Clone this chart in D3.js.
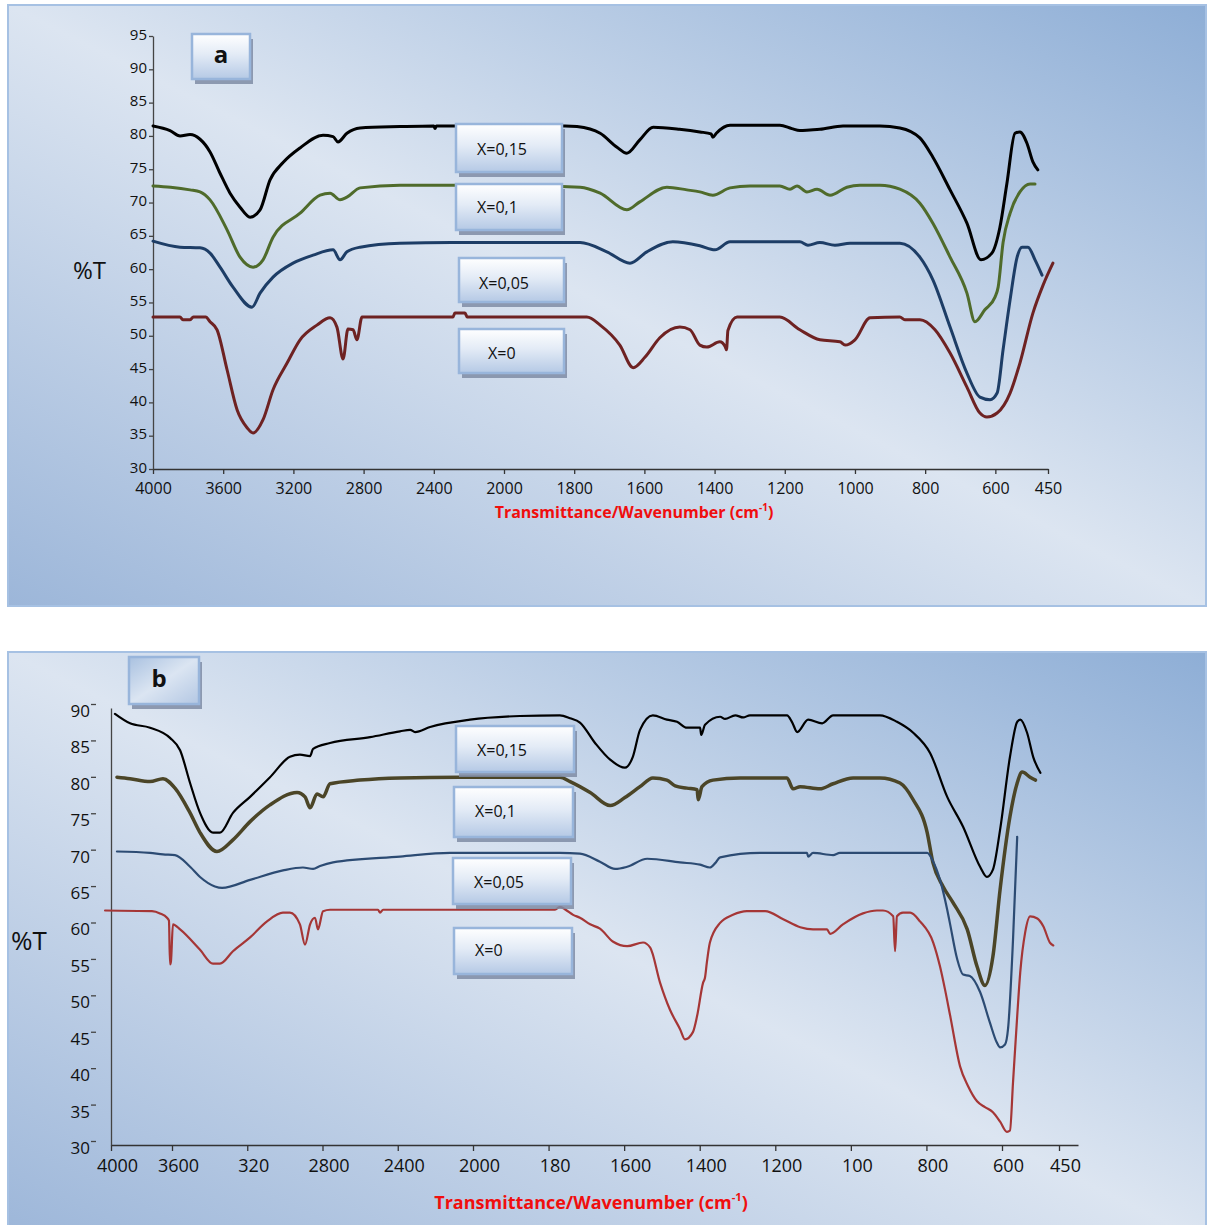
<!DOCTYPE html>
<html>
<head>
<meta charset="utf-8">
<script src="https://cdn.jsdelivr.net/npm/d3@7"></script>
<style>
body{margin:0;background:#fff;}
svg{display:block;}
text{font-family:"Open Sans",sans-serif;}
</style>
</head>
<body>
<script>
// tick values and labels
var aXTicks = [4000,3600,3200,2800,2400,2000,1800,1600,1400,1200,1000,800,600,450];
var aXLabels = ["4000","3600","3200","2800","2400","2000","1800","1600","1400","1200","1000","800","600","450"];
var bXLabels = ["4000","3600","320","2800","2400","2000","180","1600","1400","1200","100","800","600","450"];
var aYTicks = [30,35,40,45,50,55,60,65,70,75,80,85,90,95];
var bYTicks = [30,35,40,45,50,55,60,65,70,75,80,85,90];
var seriesNames = ["X=0,15","X=0,1","X=0,05","X=0"];

// panel a : [wavenumber, %T]
var a015 = [[4000,81.5],[3903,80.8],[3846,80.0],[3789,80.2],[3732,79.5],[3675,77.6],[3618,74.4],[3561,71.4],[3504,69.3],[3447,67.8],[3390,68.9],[3333,73.4],[3259,76.0],[3162,78.2],[3031,80.1],[2974,79.9],[2946,79.1],[2895,80.4],[2820,81.2],[2593,81.4],[2400,81.5],[2393,81.1],[2385,81.5],[2000,81.5],[1826,81.5],[1792,81.4],[1726,80.4],[1678,78.3],[1650,77.4],[1613,79.4],[1575,81.3],[1500,81.0],[1442,80.6],[1410,80.3],[1405,79.8],[1395,80.4],[1356,81.6],[1214,81.6],[1180,81.1],[1157,80.8],[1128,80.9],[1100,81.0],[1034,81.5],[929,81.5],[872,81.2],[815,79.7],[778,76.8],[729,71.9],[681,66.9],[641,61.4],[610,62.4],[587,66.3],[567,72.9],[544,80.4],[530,80.6],[510,78.9],[493,76.1],[479,74.9]];
var a010 = [[4000,72.5],[3900,72.3],[3789,71.9],[3732,71.6],[3675,70.4],[3578,65.9],[3504,61.8],[3430,60.3],[3373,61.4],[3316,64.8],[3162,68.4],[3048,71.1],[2991,71.4],[2934,70.4],[2895,70.8],[2820,72.2],[2593,72.6],[2000,72.6],[1783,72.3],[1726,71.4],[1650,68.9],[1613,70.1],[1536,72.3],[1479,71.9],[1442,71.6],[1405,71.1],[1356,72.2],[1299,72.5],[1214,72.5],[1185,72.0],[1165,72.5],[1137,71.6],[1108,72.0],[1071,71.1],[1023,72.3],[986,72.6],[929,72.6],[872,72.0],[815,69.9],[778,66.9],[729,61.8],[681,56.4],[658,52.1],[630,53.9],[601,55.8],[592,57.3],[578,64.0],[558,68.4],[530,71.6],[501,72.8],[487,72.8]];
var a005 = [[4000,64.2],[3846,63.3],[3732,63.2],[3675,62.4],[3618,60.3],[3544,57.3],[3436,54.3],[3390,56.4],[3316,58.8],[3202,60.9],[3088,62.1],[2974,62.9],[2934,61.4],[2895,62.6],[2820,63.3],[2593,63.9],[2300,64.0],[2000,64.0],[1783,64.0],[1707,62.6],[1641,60.9],[1593,62.6],[1519,64.1],[1442,63.5],[1399,62.9],[1356,64.1],[1157,64.1],[1134,63.6],[1100,64.0],[1057,63.6],[1014,63.9],[872,63.9],[815,61.8],[778,58.4],[729,51.3],[681,44.4],[644,40.8],[615,40.4],[595,41.4],[578,47.9],[558,55.4],[538,61.8],[524,63.3],[507,63.3],[487,61.4],[467,59.1]];
var a000 = [[4000,52.8],[3846,52.8],[3830,52.4],[3790,52.4],[3770,52.8],[3700,52.8],[3675,52.1],[3635,50.9],[3578,44.9],[3521,38.9],[3464,36.2],[3430,35.4],[3373,37.4],[3316,41.9],[3236,45.9],[3162,49.4],[3066,51.6],[2991,52.7],[2952,51.3],[2917,46.5],[2889,51.0],[2860,50.9],[2838,49.4],[2809,52.8],[2291,52.8],[2280,53.4],[2222,53.4],[2210,52.8],[1764,52.8],[1726,51.6],[1670,48.6],[1632,45.2],[1598,46.8],[1556,49.7],[1499,51.3],[1470,50.9],[1442,48.6],[1422,48.3],[1385,49.1],[1370,48.4],[1366,47.9],[1362,50.8],[1336,52.8],[1214,52.8],[1157,50.9],[1100,49.4],[1043,49.1],[1028,48.6],[1000,49.4],[957,52.7],[872,52.8],[858,52.4],[815,52.4],[772,50.9],[729,47.4],[681,42.3],[644,38.4],[624,37.8],[595,38.4],[558,41.4],[530,45.9],[493,53.4],[464,57.6],[436,60.9]];

// panel b : [wavenumber, %T]
var b015 = [[3974,89.2],[3875,87.9],[3744,87.3],[3613,85.9],[3557,84.2],[3504,79.7],[3451,75.6],[3382,72.9],[3345,72.9],[3276,75.6],[3185,77.8],[3079,80.5],[2973,83.3],[2920,83.6],[2866,83.4],[2850,84.4],[2760,85.2],[2547,86.0],[2388,86.8],[2334,87.0],[2308,86.7],[2228,87.4],[2016,88.4],[1876,88.9],[1770,89.0],[1743,88.6],[1717,88.0],[1677,85.2],[1637,82.9],[1598,81.8],[1577,83.3],[1558,87.0],[1524,89.0],[1487,88.4],[1460,88.1],[1434,87.3],[1399,87.3],[1396,86.3],[1386,87.7],[1346,88.8],[1333,88.5],[1306,89.0],[1285,88.7],[1267,89.0],[1169,89.0],[1155,88.0],[1142,86.7],[1113,88.4],[1076,87.9],[1047,89.0],[923,89.0],[878,88.1],[835,86.6],[790,83.8],[745,77.8],[703,73.7],[658,68.2],[640,66.8],[624,67.8],[605,73.3],[579,83.3],[560,88.1],[552,88.4],[534,86.6],[518,83.3],[499,81.1]];
var b010 = [[3961,80.5],[3875,80.3],[3744,79.9],[3659,80.3],[3584,79.0],[3504,75.6],[3451,72.9],[3361,70.3],[3276,71.9],[3185,74.4],[3079,76.7],[2935,78.4],[2893,77.8],[2866,76.3],[2829,78.2],[2797,77.8],[2760,79.6],[2601,80.1],[2388,80.4],[2069,80.5],[1770,80.5],[1743,79.9],[1690,78.4],[1637,76.6],[1598,77.7],[1558,79.2],[1524,80.4],[1487,80.1],[1465,79.3],[1434,79.0],[1407,78.8],[1404,77.4],[1394,79.2],[1365,80.1],[1293,80.4],[1169,80.4],[1153,78.9],[1134,79.2],[1082,78.9],[1047,79.6],[994,80.4],[923,80.4],[870,79.7],[835,77.4],[798,72.9],[783,68.8],[756,65.5],[730,63.3],[692,59.6],[666,54.5],[645,51.9],[624,55.9],[605,65.1],[579,75.1],[560,79.7],[547,81.2],[526,80.5],[512,80.1]];
var b005 = [[3961,70.3],[3744,70.1],[3659,69.9],[3584,69.8],[3504,68.2],[3451,66.8],[3372,65.5],[3334,65.3],[3185,66.4],[3010,67.7],[2904,68.1],[2850,67.9],[2813,68.3],[2744,68.8],[2388,69.6],[2122,70.1],[1770,70.1],[1717,70.0],[1664,68.9],[1624,67.9],[1592,68.2],[1539,69.3],[1452,68.8],[1399,68.5],[1373,68.1],[1359,68.7],[1346,69.5],[1240,70.1],[1116,70.1],[1113,69.6],[1100,70.1],[1047,69.8],[1029,70.1],[798,70.1],[783,69.0],[764,66.4],[745,62.3],[738,60.5],[719,55.6],[703,53.4],[685,53.2],[658,51.0],[632,46.8],[614,44.1],[605,43.4],[592,43.8],[584,46.0],[571,58.2],[560,72.3]];
var b000 = [[4039,62.2],[3731,62.1],[3679,61.8],[3633,61.2],[3620,60.8],[3613,54.8],[3607,55.2],[3595,60.3],[3557,59.6],[3451,56.8],[3382,54.9],[3345,54.9],[3276,56.6],[3185,58.5],[3095,60.7],[3010,61.9],[2973,61.9],[2920,60.3],[2893,57.5],[2866,60.3],[2840,61.2],[2824,59.6],[2797,62.1],[2760,62.3],[2505,62.3],[2494,61.9],[2478,62.3],[1783,62.3],[1770,62.7],[1755,62.3],[1735,61.6],[1717,61.2],[1690,60.3],[1664,59.7],[1629,57.9],[1592,57.3],[1550,57.8],[1531,57.1],[1505,52.3],[1479,48.6],[1452,45.9],[1439,44.5],[1418,45.5],[1407,47.7],[1391,52.3],[1386,53.0],[1381,55.1],[1373,57.8],[1346,60.5],[1312,61.6],[1275,62.1],[1227,62.1],[1179,61.0],[1134,59.9],[1100,59.6],[1063,59.6],[1055,59.0],[1021,60.3],[968,61.8],[931,62.2],[915,62.2],[888,61.4],[883,56.6],[878,61.4],[862,61.9],[843,61.9],[817,60.7],[782,57.8],[764,54.5],[751,51.4],[737,47.7],[711,40.8],[690,38.1],[666,36.0],[645,35.2],[624,34.5],[605,33.2],[587,31.8],[579,32.0],[571,38.6],[560,47.7],[552,53.7],[539,59.2],[526,61.4],[507,61.1],[491,60.0],[474,57.8],[465,57.4]];

var svg = d3.select("body").append("svg").attr("width",1207).attr("height",1225);
var defs = svg.append("defs");

function addGrad(id, x1, y1, x2, y2, stops){
  var gr = defs.append("linearGradient").attr("id",id)
    .attr("x1",x1).attr("y1",y1).attr("x2",x2).attr("y2",y2);
  stops.forEach(function(s){
    gr.append("stop").attr("offset",s[0]).attr("stop-color",s[1]);
  });
}
addGrad("bg", 0, 1, 1, 0, [[0,"#9cb6d9"],[0.5,"#dce5f1"],[1,"#8eaed6"]]);
addGrad("box", 0, 0, 0, 1, [[0,"#ffffff"],[0.45,"#e3ebf6"],[1,"#b5c9e5"]]);
addGrad("boxb", 0, 0, 1, 1, [[0,"#a9c1e0"],[0.5,"#dbe5f2"],[1,"#b3c7e3"]]);

// panel frames
svg.append("rect").attr("x",8).attr("y",5).attr("width",1198).attr("height",601)
  .attr("fill","url(#bg)").attr("stroke","#a6c1e3").attr("stroke-width",2);
svg.append("rect").attr("x",8).attr("y",652).attr("width",1198).attr("height",590)
  .attr("fill","url(#bg)").attr("stroke","#a6c1e3").attr("stroke-width",2);

function drawBox(x, y, w, h, fill){
  svg.append("rect").attr("x",x+3).attr("y",y+5).attr("width",w).attr("height",h)
    .attr("fill","#7f8ca4").attr("opacity",0.85);
  svg.append("rect").attr("x",x).attr("y",y).attr("width",w).attr("height",h)
    .attr("fill",fill).attr("stroke","#98b5db").attr("stroke-width",2.5);
}

function drawPanel(p){
  var x = d3.scaleLinear().domain(p.xDomain).range(p.xRange);
  var y = d3.scaleLinear().domain([30, p.yTop]).range(p.yRange);

  var xg = svg.append("g").attr("transform","translate(0,"+y(30)+")")
    .call(d3.axisBottom(x).tickValues(aXTicks)
      .tickFormat(function(d,i){ return p.xLabels[i]; })
      .tickSize(p.xTickLen).tickSizeOuter(0).tickPadding(p.xPad));
  xg.selectAll("text").attr("font-size",p.xFont).attr("fill","#111")
    .attr("font-family","Open Sans").attr("x",p.xShift);
  xg.selectAll("line,path").attr("stroke","#333").attr("stroke-width",1.3);

  var yg = svg.append("g").attr("transform","translate("+x(4000)+",0)");
  if (p.name == "a"){
    yg.call(d3.axisLeft(y).tickValues(aYTicks).tickSize(4).tickSizeOuter(0).tickPadding(2));
    yg.selectAll("text").attr("dy","0.2em");
  }
  else{
    yg.call(d3.axisLeft(y).tickValues(bYTicks).tickSize(0).tickPadding(21));
    yg.selectAll("text").attr("transform","translate(0,3)");
    yg.selectAll(".tick").append("line")
      .attr("x1",-20).attr("x2",-15).attr("y1",-4).attr("y2",-4);
  }
  yg.selectAll("text").attr("font-size",p.yFont).attr("fill","#111").attr("font-family","Open Sans");
  yg.selectAll("line,path").attr("stroke","#444").attr("stroke-width",1.3);

  var line = d3.line()
    .curve(d3.curveMonotoneX)
    .x(function(d){ return x(d[0]); })
    .y(function(d){ return y(d[1]); });

  for (var i = 0 ; i < p.series.length ; i++){
    svg.append("path")
      .datum(p.series[i])
      .attr("fill","none")
      .attr("stroke",p.colors[i])
      .attr("stroke-width",p.widths[i])
      .attr("stroke-linejoin","round")
      .attr("stroke-linecap","round")
      .attr("d",line);
  }

  // %T and x title
  svg.append("text").attr("x",p.tPos[0]).attr("y",p.tPos[1])
    .attr("font-size",p.tFont).attr("fill","#111").text("%T");
  var xt = svg.append("text").attr("x",p.xtPos[0]).attr("y",p.xtPos[1])
    .attr("text-anchor","middle").attr("font-size",p.xtFont).attr("font-weight","bold")
    .attr("fill","#f00e0e");
  xt.append("tspan").text("Transmittance/Wavenumber (cm");
  xt.append("tspan").attr("font-size",p.xtFont*0.62).attr("dy",-p.xtFont*0.45).text("-1");
  xt.append("tspan").attr("dy",p.xtFont*0.45).text(")");

  // legend boxes
  for (var j = 0 ; j < p.boxes.length ; j++){
    var b = p.boxes[j];
    drawBox(b[0], b[1], b[2], b[3], "url(#box)");
    svg.append("text").attr("x",p.labelPos[j][0]).attr("y",p.labelPos[j][1])
      .attr("font-size",16).attr("fill","#111").text(seriesNames[j]);
  }

  // panel letter
  drawBox(p.letterBox[0], p.letterBox[1], p.letterBox[2], p.letterBox[3], p.letterFill);
  svg.append("text").attr("x",p.letterPos[0]).attr("y",p.letterPos[1])
    .attr("text-anchor","middle").attr("font-size",24).attr("font-weight","bold")
    .attr("fill","#111").text(p.name);
}

drawPanel({
  name: "a",
  xDomain: [4000,2000,450], xRange: [153,504,1048],
  yTop: 95, yRange: [469,36],
  xLabels: aXLabels, xTickLen: 5, xPad: 8.5, xFont: 16, xShift: 0, yFont: 15,
  series: [a015,a010,a005,a000],
  colors: ["#000000","#4f6b2b","#1d3d66","#6e2222"],
  widths: [3,3,3,3],
  tPos: [73,279], tFont: 24,
  xtPos: [634,518], xtFont: 16,
  boxes: [[456,124,106,48],[456,184,106,46],[459,258,105,44],[459,329,105,44]],
  labelPos: [[477,155],[477,213],[479,289],[488,359]],
  letterBox: [192,34,58,45], letterFill: "url(#box)", letterPos: [221,63]
});

drawPanel({
  name: "b",
  xDomain: [4000,3600,2000,600,400], xRange: [111,172,473,1002,1078],
  yTop: 90, yRange: [1145,708],
  xLabels: bXLabels, xTickLen: 6, xPad: 8, xFont: 18, xShift: 6, yFont: 17,
  series: [b015,b010,b005,b000],
  colors: ["#000000","#4b4527","#2c4b73","#a53636"],
  widths: [2.2,3.5,2.2,2.2],
  tPos: [11,950], tFont: 26,
  xtPos: [591,1209], xtFont: 18,
  boxes: [[456,726,118,46],[454,787,119,50],[453,858,118,46],[454,928,118,46]],
  labelPos: [[477,756],[475,817],[474,888],[475,956]],
  letterBox: [129,657,70,47], letterFill: "url(#boxb)", letterPos: [159,687]
});
</script>
</body>
</html>
